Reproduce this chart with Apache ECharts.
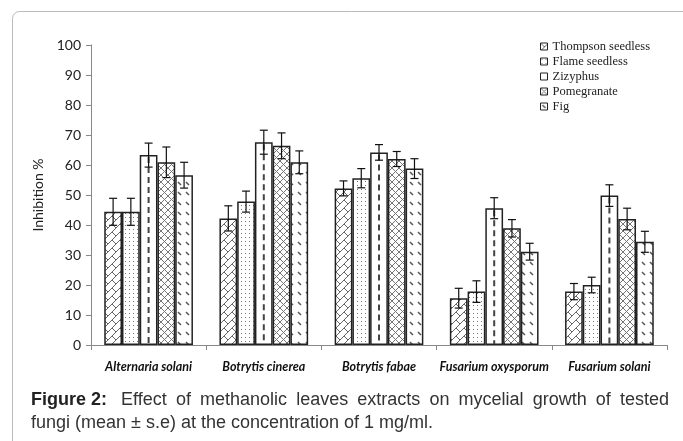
<!DOCTYPE html>
<html><head><meta charset="utf-8">
<script src="https://cdn.jsdelivr.net/npm/echarts@6/dist/echarts.min.js"></script>
<style>html,body{margin:0;padding:0;background:#fff}#c{width:683px;height:441px}</style>
</head><body><div id="c"></div>
<script>
const categories = ['Alternaria solani','Botrytis cinerea','Botrytis fabae','Fusarium oxysporum','Fusarium solani'];
const seriesNames = ['Thompson seedless','Flame seedless','Zizyphus','Pomegranate','Fig'];
const thompson = [44.4, 42.2, 52.2, 15.6, 17.8];
const thompsonErr = [4.5, 4.2, 2.5, 3.3, 2.7];
const flame = [44.4, 47.8, 55.6, 17.8, 20.0];
const flameErr = [4.5, 3.5, 3.2, 3.6, 2.6];
const zizyphus = [63.3, 67.6, 64.2, 45.6, 49.8];
const zizyphusErr = [4.0, 4.0, 2.6, 3.5, 3.6];
const pomegranate = [60.9, 66.4, 62.0, 38.9, 42.0];
const pomegranateErr = [5.1, 4.3, 2.5, 2.9, 3.6];
const fig = [56.6, 60.9, 58.8, 31.1, 34.4];
const figErr = [4.3, 3.8, 3.3, 2.8, 3.5];
const yMin = 0, yMax = 100, yStep = 10;
const captionLine1 = ['Effect','of','methanolic','leaves','extracts','on','mycelial','growth','of','tested'];
const captionLead = 'Figure 2:';
const captionLine2 = 'fungi (mean \u00b1 s.e) at the concentration of 1 mg/ml.';

const values = [thompson, flame, zizyphus, pomegranate, fig];
const errors = [thompsonErr, flameErr, zizyphusErr, pomegranateErr, figErr];

function makePattern(w, h, draw) {
  const c = document.createElement('canvas');
  c.width = w; c.height = h;
  const ctx = c.getContext('2d');
  ctx.fillStyle = '#fff'; ctx.fillRect(0, 0, w, h);
  draw(ctx);
  return { image: c, repeat: 'repeat' };
}
const patterns = [
  makePattern(8, 8, ctx => { ctx.strokeStyle = '#666'; ctx.lineWidth = 1;
    ctx.beginPath(); ctx.moveTo(-1, 9); ctx.lineTo(9, -1); ctx.stroke();
    ctx.beginPath(); ctx.moveTo(0, 0); ctx.lineTo(4, 4); ctx.stroke(); }),
  makePattern(4, 4, ctx => { ctx.fillStyle = '#777'; ctx.fillRect(1, 1, 1, 1); }),
  '#ffffff',
  makePattern(7, 7, ctx => { ctx.strokeStyle = '#777'; ctx.lineWidth = 1;
    ctx.beginPath(); ctx.moveTo(0, 0); ctx.lineTo(7, 7); ctx.stroke();
    ctx.beginPath(); ctx.moveTo(0, 7); ctx.lineTo(7, 0); ctx.stroke(); }),
  makePattern(8, 10, ctx => { ctx.strokeStyle = '#555'; ctx.lineWidth = 1.5;
    ctx.beginPath(); ctx.moveTo(2, 2); ctx.lineTo(5, 5); ctx.stroke(); })
];

const GAP = 0.23;
const barSeries = seriesNames.map((n, i) => ({
  name: n, type: 'bar', data: values[i],
  barGap: 0, barCategoryGap: (GAP * 100) + '%',
  itemStyle: { color: patterns[i], borderColor: '#222', borderWidth: 1.5 },
  emphasis: { disabled: true }, silent: true
}));

const errData = [];
values.forEach((arr, s) => arr.forEach((v, c) => errData.push([c, v, errors[s][c], s])));

const errSeries = {
  type: 'custom', silent: true, z: 5,
  encode: { x: 0, y: 1 },
  data: errData,
  renderItem: function (params, api) {
    const cat = api.value(0), v = api.value(1), e = api.value(2), s = api.value(3);
    const band = api.size([1, 0])[0];
    const bw = band * (1 - GAP) / 5;
    const cx = api.coord([cat, 0])[0] + (s - 2) * bw;
    const yTop = api.coord([cat, v + e])[1];
    const yBot = api.coord([cat, v - e])[1];
    const children = [];
    if (s === 2) {
      children.push({ type: 'line', shape: { x1: cx, y1: api.coord([cat, v])[1] + 2, x2: cx, y2: api.coord([cat, 0])[1] - 1 },
        style: { stroke: '#444', lineWidth: 2, lineDash: [6, 4] } });
    }
    const st = { stroke: '#111', lineWidth: 1.2 };
    children.push({ type: 'line', shape: { x1: cx, y1: yTop, x2: cx, y2: yBot }, style: st });
    children.push({ type: 'line', shape: { x1: cx - 4, y1: yTop, x2: cx + 4, y2: yTop }, style: st });
    children.push({ type: 'line', shape: { x1: cx - 4, y1: yBot, x2: cx + 4, y2: yBot }, style: st });
    return { type: 'group', children: children };
  }
};

// caption layout (justified first line)
const capFont = 18;
const mc = document.createElement('canvas').getContext('2d');
function tw(t, bold) { mc.font = (bold ? 'bold ' : '') + capFont + 'px "Liberation Sans"'; return mc.measureText(t).width; }
const capLeft = 31, capRight = 669;
const spaceW = tw(' ', false);
let sumW = tw(captionLead, true) + spaceW;
captionLine1.forEach(w => sumW += tw(w, false));
const nGaps = captionLine1.length;
const gapW = (capRight - capLeft - sumW) / nGaps;
const graphics = [];
let xPos = capLeft;
const y1 = 391, y2 = 414;
graphics.push({ type: 'text', x: xPos, y: y1, style: { text: captionLead, font: 'bold ' + capFont + 'px "Liberation Sans"', fill: '#222' } });
xPos += tw(captionLead, true) + spaceW + gapW;
captionLine1.forEach(w => {
  graphics.push({ type: 'text', x: xPos, y: y1, style: { text: w, font: capFont + 'px "Liberation Sans"', fill: '#333' } });
  xPos += tw(w, false) + gapW;
});
graphics.push({ type: 'text', x: capLeft, y: y2, style: { text: captionLine2, font: capFont + 'px "Liberation Sans"', fill: '#333' } });
graphics.push({ type: 'rect', shape: { x: 12.5, y: 11.5, width: 720, height: 480, r: 7 }, style: { fill: 'none', stroke: '#bbb', lineWidth: 1 }, z: -1 });

const chart = echarts.init(document.getElementById('c'), null, { renderer: 'canvas' });
chart.setOption({
  animation: false,
  backgroundColor: '#fff',
  grid: { left: 91, right: 16, top: 45, bottom: 96 },
  legend: {
    data: seriesNames, orient: 'vertical', left: 540, top: 40, padding: 0,
    itemWidth: 7, itemHeight: 7, itemGap: 2, icon: 'rect',
    itemStyle: { borderWidth: 1, borderColor: '#222' },
    textStyle: { fontFamily: 'Liberation Serif', fontSize: 12.5, color: '#222', lineHeight: 13 }
  },
  xAxis: {
    type: 'category', data: categories,
    axisLine: { lineStyle: { color: '#888', width: 1 } },
    axisTick: { show: true, length: 5, lineStyle: { color: '#888' } },
    axisLabel: { interval: 0, fontFamily: 'Lato', fontWeight: 'bold', fontStyle: 'italic', fontSize: 12.5, color: '#111', margin: 15 }
  },
  yAxis: {
    type: 'value', min: yMin, max: yMax, interval: yStep,
    name: 'Inhibition %', nameLocation: 'middle', nameGap: 40,
    nameTextStyle: { fontFamily: 'Lato', fontSize: 14, color: '#222' },
    axisLine: { show: true, lineStyle: { color: '#888', width: 1 } },
    axisTick: { show: true, length: 5, lineStyle: { color: '#888' } },
    splitLine: { show: false },
    axisLabel: { fontFamily: 'Lato', fontSize: 14, color: '#222', margin: 10 }
  },
  series: barSeries.concat([errSeries]),
  graphic: graphics
});
</script></body></html>
